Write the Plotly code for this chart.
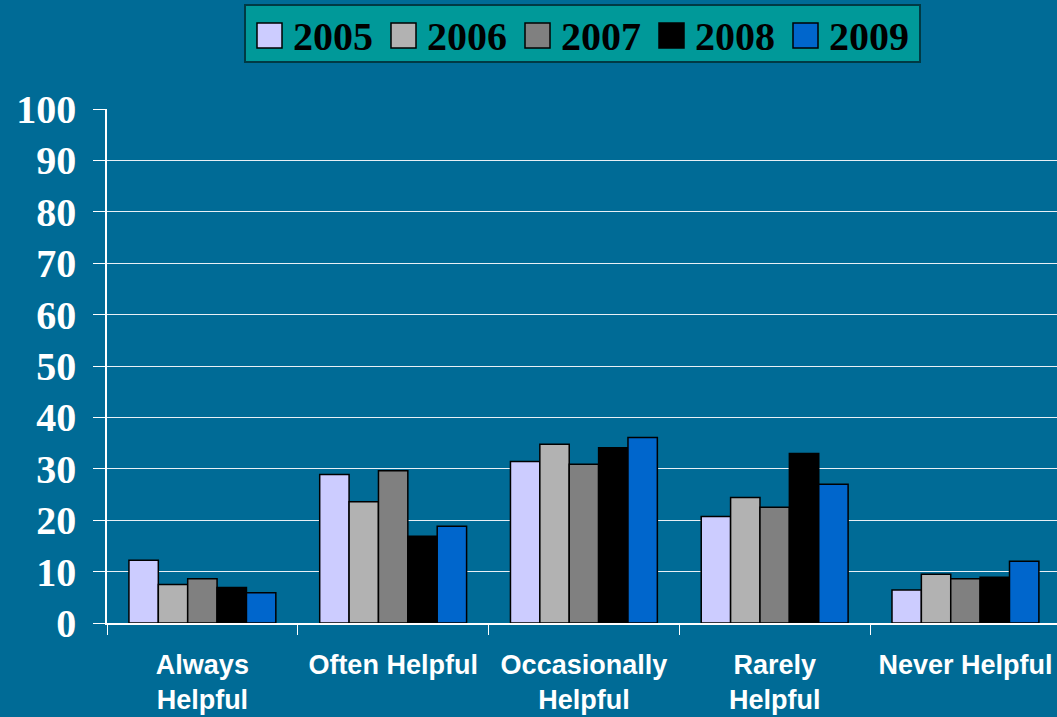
import plotly.graph_objects as go

categories = ["Always<br>Helpful", "Often Helpful", "Occasionally<br>Helpful", "Rarely<br>Helpful", "Never Helpful"]
years = ["2005", "2006", "2007", "2008", "2009"]
v2005 = [12.2, 28.9, 31.4, 20.7, 6.4]
v2006 = [7.5, 23.6, 34.8, 24.4, 9.5]
v2007 = [8.6, 29.6, 30.9, 22.5, 8.6]
v2008 = [6.9, 16.9, 34.1, 33.0, 8.9]
v2009 = [5.9, 18.8, 36.1, 27.0, 12.0]
series = [v2005, v2006, v2007, v2008, v2009]
colors = ["#CCCCFF", "#B2B2B2", "#808080", "#000000", "#0066CC"]

BG = "#006B96"
W, H = 1057, 717
ML, MR, MT, MB = 107, 0, 109, 94
PW, PH = W - ML - MR, H - MT - MB


def px_x(px):
    return (px - ML) / PW


def px_y(py):
    return (H - MB - py) / PH


fig = go.Figure()
for name, vals, col in zip(years, series, colors):
    fig.add_trace(go.Bar(
        x=categories, y=vals, name=name, showlegend=False,
        marker=dict(color=col, line=dict(color="#000000", width=1.5)),
    ))

# Legend box (drawn to match the original's large swatches)
shapes = [dict(type="rect", xref="paper", yref="paper",
               x0=px_x(245), x1=px_x(920), y0=px_y(62), y1=px_y(5),
               fillcolor="#009999", line=dict(color="#003A44", width=2), layer="above")]
annotations = []
for i, (name, col) in enumerate(zip(years, colors)):
    sx = 257 + i * 134
    shapes.append(dict(type="rect", xref="paper", yref="paper",
                       x0=px_x(sx), x1=px_x(sx + 25), y0=px_y(48), y1=px_y(23),
                       fillcolor=col, line=dict(color="#000000", width=1.5), layer="above"))
    annotations.append(dict(xref="paper", yref="paper", x=px_x(sx + 34), y=px_y(36),
                            xanchor="left", yanchor="middle", text=name, showarrow=False,
                            font=dict(family="Liberation Serif", size=40, color="#000000", weight="bold")))

fig.update_layout(
    width=W, height=H,
    paper_bgcolor=BG, plot_bgcolor=BG,
    margin=dict(l=ML, r=MR, t=MT, b=MB),
    barmode="group", bargap=0.23, bargroupgap=0,
    showlegend=False,
    shapes=shapes, annotations=annotations,
    xaxis=dict(
        range=[-0.5, 4.48], showline=True, linecolor="white", linewidth=1.5,
        ticks="outside", tickson="boundaries", ticklen=10, tickcolor="white",
        tickfont=dict(family="Liberation Sans", size=27, color="white", weight="bold"),
        ticklabelstandoff=17, showgrid=False, fixedrange=True,
    ),
    yaxis=dict(
        range=[0, 100], dtick=10, showline=True, linecolor="white", linewidth=1.5,
        ticks="outside", ticklen=12, tickcolor="white",
        showgrid=True, gridcolor="#E8F0F6", gridwidth=1.3,
        tickfont=dict(family="Liberation Serif", size=40, color="white", weight="bold"),
        ticklabelstandoff=9, zeroline=False,
    ),
)

fig.write_html("out.html", config={"displayModeBar": False},
               post_script="document.body.style.margin='0';document.body.style.backgroundColor='%s';" % BG)
